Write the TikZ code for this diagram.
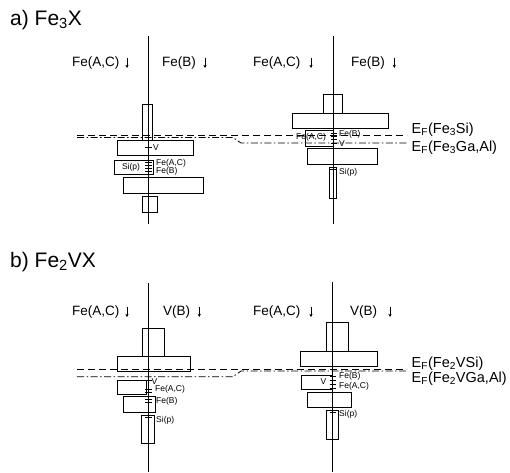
\documentclass[tikz,border=0pt]{standalone}
\usepackage{fontspec}
\setmainfont{Liberation Sans}
\usetikzlibrary{arrows.meta}
\begin{document}
\begin{tikzpicture}[x=1pt,y=-1pt,
  box/.style={draw, line width=0.7pt},
  axisline/.style={line width=1pt},
  tickm/.style={line width=0.6pt},
  efdash/.style={line width=0.8pt, dash pattern=on 7pt off 4pt},
  efdot/.style={line width=0.8pt, dash pattern=on 7pt off 2.5pt on 1.5pt off 2.5pt},
  title/.style={font=\fontsize{21}{24}\selectfont, inner sep=0, anchor=west},
  colhead/.style={font=\fontsize{13.5}{15}\selectfont, inner sep=0, anchor=west},
  eflab/.style={font=\fontsize{14.5}{16}\selectfont, inner sep=0, anchor=west},
  small/.style={font=\fontsize{8.5}{9}\selectfont, inner sep=0},
  spinarr/.style={line width=0.6pt, -{Stealth[length=3.2pt,width=3.2pt]}}]
\useasboundingbox (0,0) rectangle (510,472);

% ---------------- titles
\node[title] (ta) at (10,20) {a) Fe\textsubscript{3}X};
\node[title] (tb) at (10,262) {b) Fe\textsubscript{2}VX};

% ================= panel a, left =================
\draw[axisline] (148.3,36) coordinate (aLt) -- (148.3,224) coordinate (aLb);
\node[colhead] (aL1) at (72,63) {Fe(A,C)};
\draw[spinarr] (127,57.5) -- (127,68);
\node[colhead] (aL2) at (162,63) {Fe(B)};
\draw[spinarr] (205,57.5) -- (205,68);
\draw[box] (142.5,104) rectangle (152.3,140);
\draw[box] (117.3,140) rectangle (193.3,155.5);
\draw[box] (114,160) rectangle (153,174);
\draw[box] (123.5,177.5) rectangle (203.5,193.3);
\draw[box] (142,196.7) rectangle (157.5,212);
\foreach \yy in {147} \draw[tickm] (145,\yy) -- (151.6,\yy);
\foreach \yy in {162,165,168,171} \draw[tickm] (145,\yy) -- (151.6,\yy);
\node[small, anchor=west] (aLv) at (153,147.5) {V};
\node[small, anchor=west] (aLfac) at (156,163) {Fe(A,C)};
\node[small, anchor=west] (aLfb) at (156,171) {Fe(B)};
\node[small] (aLsi) at (131,167) {Si(p)};

% ================= panel a, right =================
\draw[axisline] (333.3,36) coordinate (aRt) -- (333.3,224) coordinate (aRb);
\node[colhead] (aR1) at (253,63) {Fe(A,C)};
\draw[spinarr] (311,57.5) -- (311,68);
\node[colhead] (aR2) at (351,63) {Fe(B)};
\draw[spinarr] (394.3,57.5) -- (394.3,68);
\draw[box] (323.3,94.3) rectangle (342.3,113.3);
\draw[box] (292.7,113.3) rectangle (388.3,128.3);
\draw[box] (305,130.7) rectangle (333,146);
\draw[box] (307.7,148.7) rectangle (377.3,164.3);
\draw[box] (329.5,167.3) rectangle (336.5,198.3);
\foreach \yy in {133,136,139,143.5} \draw[tickm] (330.5,\yy) -- (336.5,\yy);
\draw[tickm] (330,169.5) -- (336.5,169.5);
\node[small] (aRfac) at (311,137.5) {Fe(A,C)};
\node[small, anchor=west] (aRfb) at (339,134.5) {Fe(B)};
\node[small, anchor=west] (aRv) at (339,143.5) {V};
\node[small, anchor=west] (aRsi) at (339,172) {Si(p)};

% E_F lines panel a
\coordinate (aD0) at (77,135);
\coordinate (aD1) at (407,135);
\draw[efdash] (aD0) -- (aD1);
\coordinate (aP0) at (77,137.5);
\coordinate (aP1) at (233,137.5);
\coordinate (aP2) at (241,143);
\coordinate (aP3) at (407,143);
\draw[efdot] (aP0) -- (aP1) -- (aP2) -- (aP3);
\node[eflab] (aEF1) at (411.5,130) {E\textsubscript{F}(Fe\textsubscript{3}Si)};
\node[eflab] (aEF2) at (411.5,148) {E\textsubscript{F}(Fe\textsubscript{3}Ga,Al)};

% ================= panel b, left =================
\draw[axisline] (148.3,283) coordinate (bLt) -- (148.3,472) coordinate (bLb);
\node[colhead] (bL1) at (72,312) {Fe(A,C)};
\draw[spinarr] (127,306.5) -- (127,317);
\node[colhead] (bL2) at (163,312) {V(B)};
\draw[spinarr] (199.3,306.5) -- (199.3,317);
\draw[box] (142.3,328.3) rectangle (164,356.7);
\draw[box] (117.3,356.7) rectangle (190,371.7);
\draw[box] (117.3,380.7) rectangle (146.7,394.3);
\draw[box] (123.3,396.7) rectangle (155,412.7);
\draw[box] (141.7,415) rectangle (154,443.3);
\foreach \yy in {380,389,392.5,399.5,402,417} \draw[tickm] (145,\yy) -- (151.6,\yy);
\node[small, anchor=west] (bLv) at (151.5,382) {V};
\node[small, anchor=west] (bLfac) at (155,389.5) {Fe(A,C)};
\node[small, anchor=west] (bLfb) at (156,401.5) {Fe(B)};
\node[small, anchor=west] (bLsi) at (156,420.5) {Si(p)};

% ================= panel b, right =================
\draw[axisline] (332.7,282) coordinate (bRt) -- (332.7,472) coordinate (bRb);
\node[colhead] (bR1) at (253,312) {Fe(A,C)};
\draw[spinarr] (311,306.5) -- (311,317);
\node[colhead] (bR2) at (350,312) {V(B)};
\draw[spinarr] (390,306.5) -- (390,317);
\draw[box] (326.7,322.7) rectangle (348.3,351.7);
\draw[box] (300,351.7) rectangle (377.3,366.7);
\draw[box] (301.7,375) rectangle (332.3,389.3);
\draw[box] (307.7,392.3) rectangle (351.7,407.7);
\draw[box] (326,410) rectangle (338.3,439);
\foreach \yy in {376,380,384,388} \draw[tickm] (329.7,\yy) -- (335.7,\yy);
\draw[tickm] (329.5,412.7) -- (336,412.7);
\node[small, anchor=west] (bRfb) at (339,376.7) {Fe(B)};
\node[small, anchor=west] (bRfac) at (339,386.5) {Fe(A,C)};
\node[small] (bRv) at (323.5,381.5) {V};
\node[small, anchor=west] (bRsi) at (339,414) {Si(p)};

% E_F lines panel b
\coordinate (bD0) at (77,369.5);
\coordinate (bD1) at (407,369.5);
\draw[efdash] (bD0) -- (bD1);
\coordinate (bP0) at (77,376.7);
\coordinate (bP1) at (233,376.7);
\coordinate (bP2) at (241,371);
\coordinate (bP3) at (407,371);
\draw[efdot] (bP0) -- (bP1) -- (bP2) -- (bP3);
\node[eflab] (bEF1) at (411.5,363.3) {E\textsubscript{F}(Fe\textsubscript{2}VSi)};
\node[eflab] (bEF2) at (411.5,378.3) {E\textsubscript{F}(Fe\textsubscript{2}VGa,Al)};
\end{tikzpicture}
\end{document}
